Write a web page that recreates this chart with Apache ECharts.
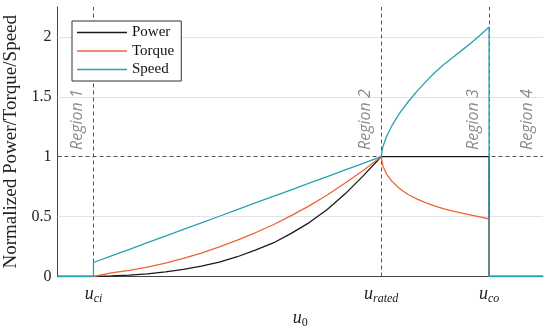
<!DOCTYPE html>
<html><head><meta charset="utf-8">
<script src="https://cdn.jsdelivr.net/npm/echarts@6/dist/echarts.min.js"></script>
<style>html,body{margin:0;padding:0;background:#fff}#c{width:550px;height:329px}</style>
</head><body><div id="c"></div>
<script>
const seriesNames = ['Power', 'Torque', 'Speed'];
const windSpeed = [2, 3, 3, 3.5, 4, 4.5, 5, 5.5, 6, 6.5, 7, 7.5, 8, 8.5, 9, 9.5, 10, 10.5, 11,
  11.05, 11.15, 11.3, 11.5, 11.75, 12, 12.25, 12.5, 12.75, 13, 13.25, 13.5, 13.75, 14, 14, 15.5];
const power = [0, 0, 0.0016, 0.005, 0.012, 0.022, 0.038, 0.059, 0.087, 0.12, 0.165, 0.22, 0.28, 0.36, 0.45, 0.56, 0.69, 0.84, 1,
  1, 1, 1, 1, 1, 1, 1, 1, 1, 1, 1, 1, 1, 1, 0, 0];
const torque = [0, 0, 0.014, 0.03, 0.051, 0.079, 0.112, 0.151, 0.196, 0.247, 0.303, 0.365, 0.432, 0.508, 0.59, 0.68, 0.78, 0.885, 1,
  0.921, 0.855, 0.794, 0.737, 0.685, 0.646, 0.614, 0.587, 0.564, 0.546, 0.529, 0.513, 0.497, 0.48, 0, 0];
const speed = [0, 0, 0.117, 0.172, 0.227, 0.283, 0.338, 0.393, 0.448, 0.503, 0.559, 0.614, 0.669, 0.724, 0.779, 0.834, 0.89, 0.945, 1,
  1.086, 1.169, 1.26, 1.357, 1.459, 1.548, 1.629, 1.705, 1.772, 1.83, 1.89, 1.95, 2.015, 2.083, 0, 0];
const xTickValues = [3, 11, 14];
const xTickSubs = ['ci', 'rated', 'co'];
const yTickValues = [0, 0.5, 1, 1.5, 2];
const gridValues = [0.5, 1.5, 2];
const regionNames = ['Region 1', 'Region 2', 'Region 3', 'Region 4'];

const colors = ['#1a1a1a', '#EB6436', '#2AA0B4'];
const values = [power, torque, speed];
const serif = 'Liberation Serif';

const chart = echarts.init(document.getElementById('c'), null, {renderer: 'canvas'});

const dataSeries = seriesNames.map((name, i) => ({
  name: name,
  type: 'line',
  symbol: 'none',
  z: 3 + i,
  color: colors[i],
  lineStyle: {width: 1.3, color: colors[i]},
  data: windSpeed.map((u, k) => [u, values[i][k]])
}));

// region labels placed just left of each boundary (and after cut-out)
const regionX = [xTickValues[0] - 0.45, xTickValues[1] - 0.45, xTickValues[2] - 0.43, xTickValues[2] + 1.08];

const guideSeries = {
  name: 'guides',
  type: 'line',
  z: 1,
  data: [],
  silent: true,
  markLine: {
    z: 1,
    silent: true,
    symbol: ['none', 'none'],
    label: {show: false},
    animation: false,
    data: [
      ...gridValues.map(v => ({yAxis: v, lineStyle: {color: '#e2e2e2', width: 1, type: 'solid'}})),
      {yAxis: 1, lineStyle: {color: '#555', width: 1, type: [4, 3]}},
      ...xTickValues.map(v => ({xAxis: v, lineStyle: {color: '#555', width: 1, type: [4, 3]}}))
    ]
  },
  markPoint: {
    z: 2,
    silent: true,
    symbol: 'circle',
    symbolSize: 0,
    animation: false,
    label: {
      show: true, position: 'inside', rotate: 90,
      fontFamily: 'Open Sans', fontStyle: 'italic', fontSize: 16, color: '#8a8a8a'
    },
    data: regionNames.map((r, i) => ({coord: [regionX[i], 1.31], value: r, label: {formatter: r}}))
  }
};

const richSub = {
  u: {fontFamily: serif, fontStyle: 'italic', fontSize: 18, lineHeight: 20, color: '#222', verticalAlign: 'middle'},
  s: {fontFamily: serif, fontStyle: 'italic', fontSize: 12, lineHeight: 12, color: '#222', verticalAlign: 'bottom'},
  n: {fontFamily: serif, fontSize: 12, lineHeight: 12, color: '#222', verticalAlign: 'bottom'}
};

const option = {
  animation: false,
  backgroundColor: '#fff',
  grid: {left: 57.5, right: 7, top: 7, bottom: 52.5, outerBoundsMode: 'none', containLabel: false},
  legend: {
    z: 20,
    orient: 'vertical',
    left: 72, top: 21,
    data: seriesNames.map(n => ({name: n, icon: 'rect'})),
    itemWidth: 50, itemHeight: 1.6, itemGap: 3.5,
    padding: [4, 7, 4, 5],
    borderColor: '#333', borderWidth: 1, borderRadius: 0,
    backgroundColor: '#fff',
    textStyle: {fontFamily: serif, fontSize: 15, color: '#111', padding: [0, 0, 0, 0]}
  },
  xAxis: {
    type: 'value', min: 2, max: 15.5,
    splitLine: {show: false},
    axisLine: {show: true, onZero: false, lineStyle: {color: '#444', width: 1}},
    axisTick: {show: false},
    axisLabel: {
      customValues: xTickValues,
      margin: 8,
      formatter: v => {
        const k = xTickValues.indexOf(v);
        return k < 0 ? '' : '{u|u}{s|' + xTickSubs[k] + '}';
      },
      rich: richSub
    },
    name: '{u|u}{n|0}',
    nameLocation: 'middle',
    nameGap: 30,
    nameTextStyle: {verticalAlign: 'top', rich: richSub}
  },
  yAxis: {
    type: 'value', min: 0, max: 2.25, interval: 0.5,
    splitLine: {show: false},
    axisLine: {show: true, lineStyle: {color: '#444', width: 1}},
    axisTick: {show: true, inside: true, length: 4, customValues: yTickValues, lineStyle: {color: '#444'}},
    axisLabel: {
      customValues: yTickValues,
      margin: 6,
      fontFamily: serif, fontSize: 16, color: '#222',
      formatter: v => String(v)
    },
    name: 'Normalized Power/Torque/Speed',
    nameLocation: 'middle',
    nameGap: 27,
    nameTextStyle: {fontFamily: serif, fontSize: 19, color: '#222'}
  },
  series: [guideSeries, ...dataSeries]
};
chart.setOption(option);
</script>
</body></html>
